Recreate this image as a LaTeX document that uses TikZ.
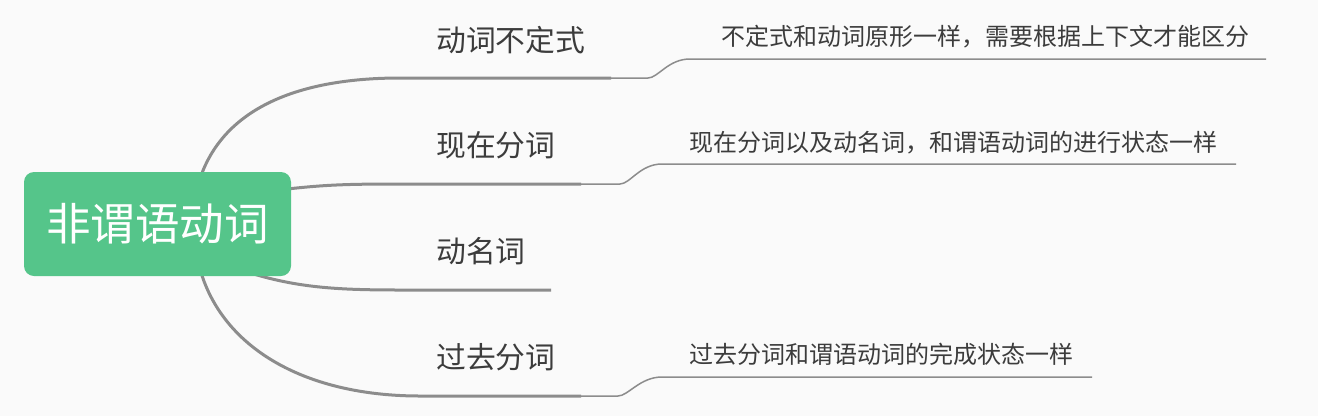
\documentclass[tikz,border=0pt]{standalone}
\usepackage{fontspec}
\setmainfont{Noto Sans CJK SC}
\definecolor{bg}{HTML}{FAFAFA}
\definecolor{rootgreen}{HTML}{55C58A}
\definecolor{linegray}{HTML}{8C8C8C}
\definecolor{txt}{HTML}{3C3C3C}
\begin{document}
\begin{tikzpicture}[x=1pt,y=-1pt,
  trunk/.style={draw=linegray,line width=3pt},
  twig/.style={draw=linegray,line width=1.5pt},
  rootbox/.style={fill=rootgreen,rounded corners=10pt,minimum width=267pt,minimum height=104pt,inner sep=0pt,text=white,font=\fontsize{44.5}{44.5}\selectfont},
  topic/.style={anchor=west,inner sep=0pt,text=txt,font=\fontsize{29.8}{30}\selectfont},
  note/.style={anchor=west,inner sep=0pt,text=txt,font=\fontsize{24}{24}\selectfont}]
\fill[bg] (0,0) rectangle (1318,416);
\useasboundingbox (0,0) rectangle (1318,416);
% anchor points
\coordinate (o1) at (192,226);
\coordinate (o2) at (270,191);
\coordinate (o3) at (235,268);
\coordinate (o4) at (194,226);
\coordinate (k1) at (400,78);
\coordinate (e1) at (611,78);
\coordinate (s1) at (648,78);
\coordinate (t1) at (690,59);
\coordinate (f1) at (1266,59);
\coordinate (k2) at (400,184);
\coordinate (e2) at (581,184);
\coordinate (s2) at (620,184);
\coordinate (t2) at (662,164);
\coordinate (f2) at (1236,164);
\coordinate (k3) at (400,290);
\coordinate (e3) at (551,290);
\coordinate (k4) at (420,396);
\coordinate (e4) at (581,396);
\coordinate (s4) at (618,396);
\coordinate (t4) at (662,377);
\coordinate (f4) at (1092,377);
% branches
\draw[trunk] (o1) .. controls (195,120) and (280,78) .. (k1) -- (e1);
\draw[trunk] (o2) .. controls (320,185) and (340,184) .. (k2) -- (e2);
\draw[trunk] (o3) .. controls (290,287) and (330,290) .. (k3) -- (e3);
\draw[trunk] (o4) .. controls (195,330) and (285,396) .. (k4) -- (e4);
% note connectors
\draw[twig] (e1) -- (s1) .. controls +(10,0) and +(-22,0) .. (t1) -- (f1);
\draw[twig] (e2) -- (s2) .. controls +(10,0) and +(-22,0) .. (t2) -- (f2);
\draw[twig] (e4) -- (s4) .. controls +(10,0) and +(-22,0) .. (t4) -- (f4);
% root
\node[rootbox] (root) at (157.5,224) {非谓语动词};
% topics
\node[topic] (n1) at (436,40) {动词不定式};
\node[topic] (n2) at (436,145.5) {现在分词};
\node[topic] (n3) at (436,251) {动名词};
\node[topic] (n4) at (436,357) {过去分词};
% notes
\node[note] (d1) at (721,37) {不定式和动词原形一样，需要根据上下文才能区分};
\node[note] (d2) at (689,142.5) {现在分词以及动名词，和谓语动词的进行状态一样};
\node[note] (d4) at (689,354) {过去分词和谓语动词的完成状态一样};
\end{tikzpicture}
\end{document}
